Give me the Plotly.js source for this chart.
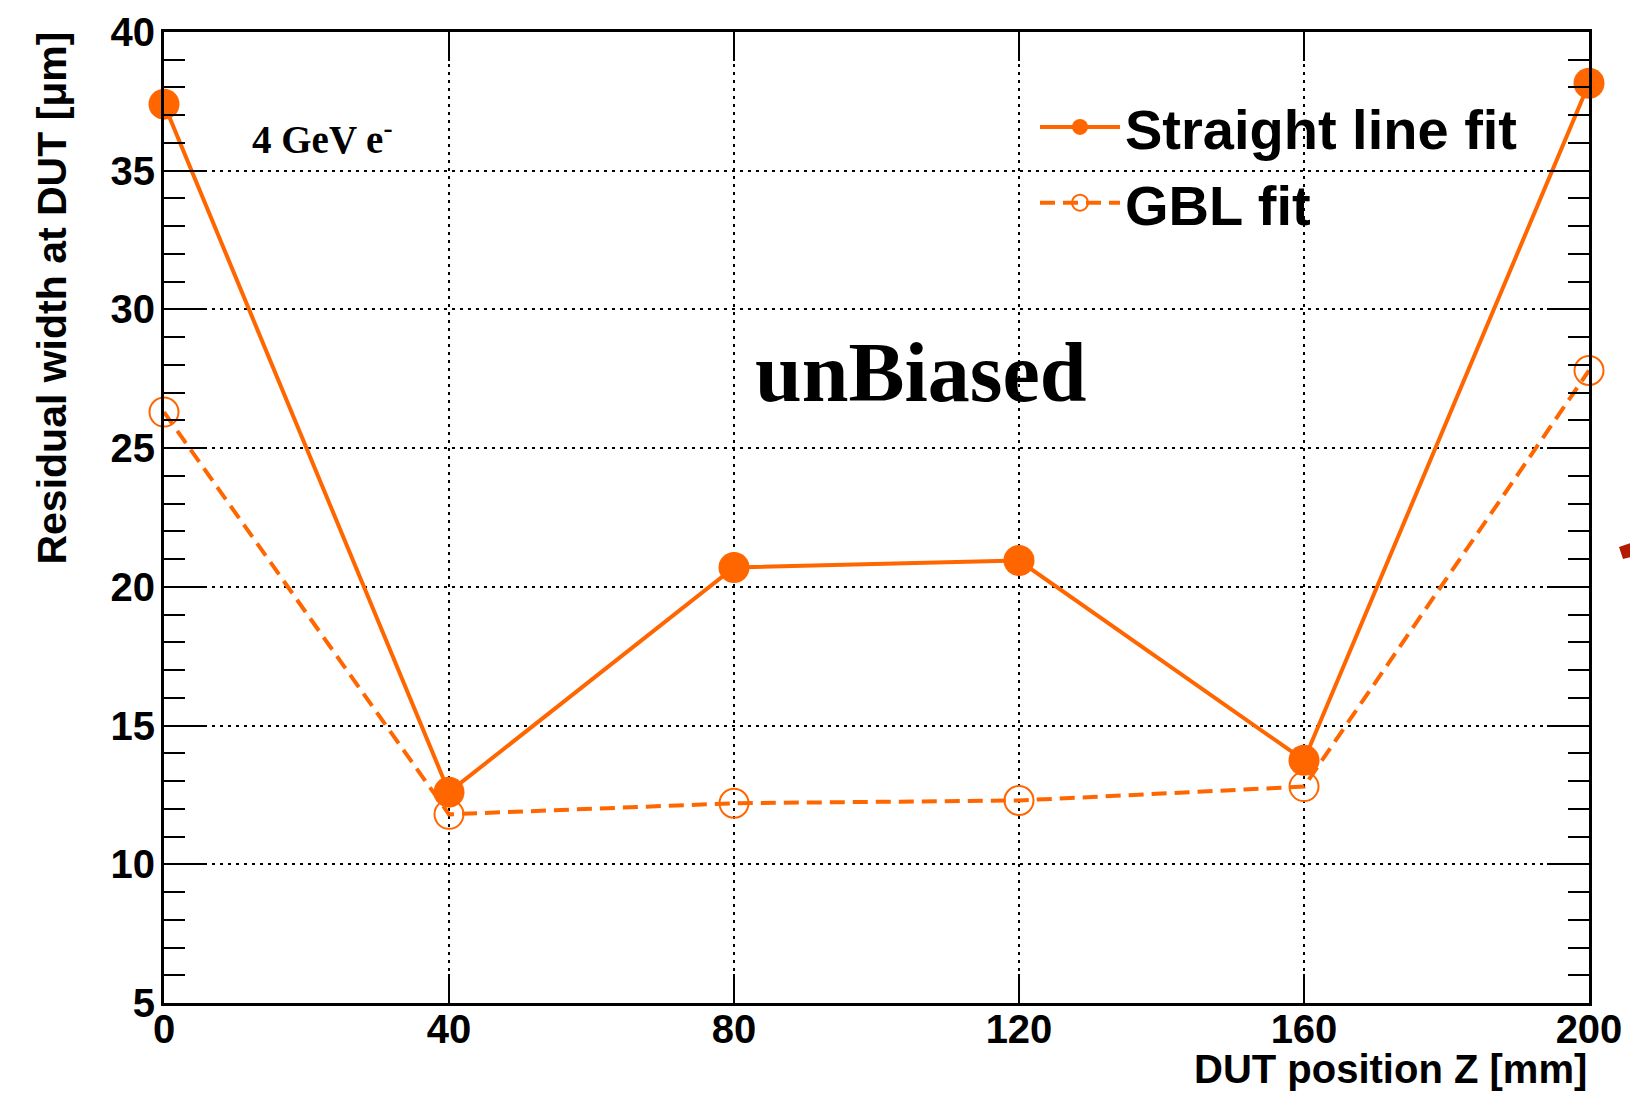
<!DOCTYPE html>
<html>
<head>
<meta charset="utf-8">
<script src="https://cdn.plot.ly/plotly-3.0.1.min.js"></script>
<style>html,body{margin:0;padding:0;background:#fff;}#chart{width:1630px;height:1096px;}</style>
</head>
<body>
<div id="chart"></div>
<script>
// Data
const dutPositions = [0, 40, 80, 120, 160, 200];
const straightLineFit = [37.4, 12.6, 20.7, 20.95, 13.75, 38.15];
const gblFit = [26.3, 11.8, 12.2, 12.3, 12.8, 27.8];
const seriesNames = ["Straight line fit", "GBL fit"];
const yTickVals = [5, 10, 15, 20, 25, 30, 35, 40];
const xTickVals = [0, 40, 80, 120, 160, 200];

const orange = "#ff6600";
const sans = "Liberation Sans, Arial, sans-serif";
const serif = "Liberation Serif, Times New Roman, serif";

const traces = [
  {
    x: dutPositions, y: straightLineFit, name: seriesNames[0],
    type: "scatter", mode: "lines+markers",
    line: {color: orange, width: 4},
    marker: {color: orange, size: 31, symbol: "circle"},
    cliponaxis: false
  },
  {
    x: dutPositions, y: gblFit, name: seriesNames[1],
    type: "scatter", mode: "lines+markers",
    line: {color: orange, width: 4, dash: "15px,8px"},
    marker: {color: orange, size: 29, symbol: "circle-open", line: {color: orange, width: 2}},
    cliponaxis: false
  }
];

const layout = {
  width: 1630, height: 1096,
  margin: {l: 164, r: 41, t: 32, b: 93},
  paper_bgcolor: "#fff", plot_bgcolor: "#fff",
  showlegend: true,
  legend: {
    x: (1035 - 164) / 1425, xanchor: "left",
    y: 1 - (84 - 32) / 971, yanchor: "top",
    bgcolor: "rgba(0,0,0,0)", borderwidth: 0,
    itemwidth: 80,
    font: {family: sans, size: 56, color: "#000", weight: 700}
  },
  xaxis: {
    range: [0, 200], tickvals: xTickVals, ticktext: xTickVals.map(String),
    ticks: "inside", ticklen: 29, tickwidth: 2, tickcolor: "#000",
    showline: true, linewidth: 3, linecolor: "#000", mirror: "ticks",
    showgrid: true, gridcolor: "#000", gridwidth: 2, griddash: "3px,5px",
    zeroline: false,
    tickfont: {family: sans, size: 40, color: "#000", weight: 700},
    ticklabelstandoff: -11
  },
  yaxis: {
    range: [5, 40], tickvals: yTickVals, ticktext: yTickVals.map(String),
    ticks: "inside", ticklen: 42, tickwidth: 2, tickcolor: "#000",
    showline: true, linewidth: 3, linecolor: "#000", mirror: "ticks",
    showgrid: true, gridcolor: "#000", gridwidth: 2, griddash: "3px,5px",
    zeroline: false,
    minor: {dtick: 1, ticks: "inside", ticklen: 21, tickwidth: 2, tickcolor: "#000", showgrid: false},
    tickfont: {family: sans, size: 40, color: "#000", weight: 700},
    ticklabelstandoff: -2
  },
  annotations: [
    {
      text: "Residual width at DUT [μm]", textangle: -90,
      xref: "paper", yref: "paper", x: (52 - 164) / 1425, y: 1.002,
      xanchor: "center", yanchor: "top", showarrow: false,
      font: {family: sans, size: 41, color: "#000", weight: 700}
    },
    {
      text: "DUT position Z [mm]",
      xref: "paper", yref: "paper", x: 1.0, y: -(1069 - 1003) / 971,
      xanchor: "right", yanchor: "middle", showarrow: false,
      font: {family: sans, size: 40, color: "#000", weight: 700}
    },
    {
      text: "4 GeV e<sup>-</sup>",
      xref: "paper", yref: "paper", x: (250 - 164) / 1425, y: 1 - (137 - 32) / 971,
      xanchor: "left", yanchor: "middle", showarrow: false,
      font: {family: serif, size: 39, color: "#000", weight: 700}
    },
    {
      text: "unBiased",
      xref: "paper", yref: "paper", x: (921 - 164) / 1425, y: 1 - (372 - 32) / 971,
      xanchor: "center", yanchor: "middle", showarrow: false,
      font: {family: serif, size: 84, color: "#000", weight: 700}
    }
  ],
  shapes: [
    {
      type: "path", xref: "paper", yref: "paper",
      path: "M " + ((1619 - 164) / 1425) + " " + (1 - (547 - 32) / 971) +
            " L " + ((1631 - 164) / 1425) + " " + (1 - (543 - 32) / 971) +
            " L " + ((1631 - 164) / 1425) + " " + (1 - (557 - 32) / 971) +
            " L " + ((1623 - 164) / 1425) + " " + (1 - (559 - 32) / 971) + " Z",
      fillcolor: "#b31a00", line: {width: 0}, layer: "above"
    }
  ]
};

Plotly.newPlot("chart", traces, layout, {displayModeBar: false, staticPlot: true});
</script>
</body>
</html>
